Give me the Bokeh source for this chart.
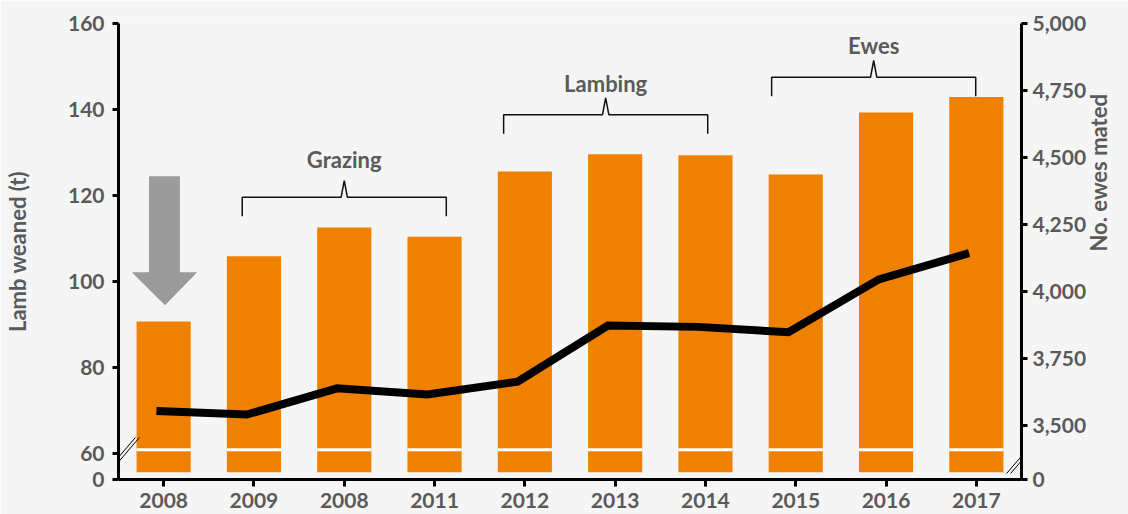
import math
from bokeh.plotting import figure
from bokeh.models import (Range1d, LinearAxis, FixedTicker, Label, Arrow,
                          ColumnDataSource, NumeralTickFormatter)
from bokeh.transform import dodge
from bokeh.embed import file_html
from bokeh.resources import INLINE

# ---- data ----
years = ["2008", "2009", "2008", "2011", "2012", "2013", "2014", "2015", "2016", "2017"]
lamb_weaned_t = [90.7, 105.9, 112.6, 110.4, 125.6, 129.6, 129.4, 124.9, 139.3, 142.9]
ewes_mated = [3555, 3542, 3640, 3617, 3665, 3874, 3869, 3849, 4046, 4144]
left_ticks = [60, 80, 100, 120, 140, 160]
right_ticks = [3500, 3750, 4000, 4250, 4500, 4750, 5000]

# annotation groups: (label, centre index, bracket height, label baseline)
brackets = [("Grazing", 2.0, 119.6, 128.4),
            ("Lambing", 4.895, 138.8, 146.0),
            ("Ewes", 7.863, 147.5, 155.0)]

FONT = "Lato"
TXT = "#5a5a5a"
ORANGE = "#f08000"
BG = "#f5f5f5"

idx = list(range(len(years)))
src = ColumnDataSource(dict(x=idx, top=lamb_weaned_t, ewes=ewes_mated))

LEFT_ZERO = 54      # broken-axis position of "0"
RIGHT_ZERO = 3300

p = figure(width=1128, height=514, output_backend="svg", toolbar_location=None,
           x_range=Range1d(-0.5, 9.5), y_range=Range1d(LEFT_ZERO, 160),
           min_border_left=116, min_border_right=105, min_border_top=23,
           min_border_bottom=35, background_fill_color=BG, border_fill_color=BG,
           outline_line_color=None)
p.extra_y_ranges = {"ewes": Range1d(RIGHT_ZERO, 5000)}
p.xgrid.visible = False
p.ygrid.visible = False

# bars (broken at the bottom)
p.vbar(x="x", top="top", bottom=55.7, width=0.6, fill_color=ORANGE,
       line_color=None, source=src)
p.vbar(x="x", top=61.28, bottom=60.58, width=0.6, fill_color="white",
       line_color=None, source=src)

# line
p.line(x=dodge("x", -0.08, range=p.x_range), y="ewes", y_range_name="ewes",
       source=src, line_width=8, line_color="black", line_join="miter")

# down arrow
p.patch([-0.162, 0.180, 0.180, 0.371, 0.015, -0.353, -0.162],
        [124.5, 124.5, 102.2, 102.2, 94.5, 102.2, 102.2],
        fill_color="#9b9b9b", line_color=None)

# brackets
half = 1.13
drop = 4.4
peak = 3.9
pw = 0.035
for name, cx, yh, yl in brackets:
    xs = [cx - half, cx - half, cx - pw, cx, cx + pw, cx + half, cx + half]
    ys = [yh - drop, yh, yh, yh + peak, yh, yh, yh - drop]
    p.line(xs, ys, line_color="#111111", line_width=1.5)
    p.add_layout(Label(x=cx, y=yl, text=name, text_align="center",
                       text_baseline="alphabetic", text_font=FONT,
                       text_font_style="bold", text_font_size="22px",
                       text_color=TXT))

# axes styling
def style_axis(ax):
    ax.axis_line_color = "black"
    ax.axis_line_width = 3
    ax.major_tick_line_color = "black"
    ax.major_tick_line_width = 3
    ax.major_tick_out = 6
    ax.major_tick_in = 0
    ax.minor_tick_line_color = None
    ax.major_label_text_font = FONT
    ax.major_label_text_font_style = "bold"
    ax.major_label_text_font_size = "21px"
    ax.major_label_text_color = TXT
    ax.axis_label_text_font = FONT
    ax.axis_label_text_font_style = "bold"
    ax.axis_label_text_font_size = "22px"
    ax.axis_label_text_color = TXT

xa = p.xaxis[0]
style_axis(xa)
xa.ticker = FixedTicker(ticks=idx)
xa.major_label_overrides = {i: y for i, y in enumerate(years)}
xa.major_tick_out = 7
xa.major_label_standoff = 6

ya = p.yaxis[0]
style_axis(ya)
ya.ticker = FixedTicker(ticks=[LEFT_ZERO] + left_ticks)
ya.major_label_overrides = {LEFT_ZERO: "0"}
ya.major_label_standoff = 8
ya.axis_label = "Lamb weaned (t)"
ya.axis_label_standoff = 34

ra = LinearAxis(y_range_name="ewes")
style_axis(ra)
ra.ticker = FixedTicker(ticks=[RIGHT_ZERO] + right_ticks)
ra.formatter = NumeralTickFormatter(format="0,0")
ra.major_label_overrides = {RIGHT_ZERO: "0"}
ra.major_label_standoff = 5
ra.axis_label = "No. ewes mated"
ra.axis_label_standoff = 9
try:
    ra.axis_label_orientation = math.pi / 2
except Exception:
    pass
p.add_layout(ra, "right")

# axis break marks
for x0, x1 in [(-0.654, -0.3126), (-0.610, -0.268), (9.335, 9.676), (9.379, 9.720)]:
    p.add_layout(Arrow(end=None, x_start=x0, y_start=55.39, x_end=x1, y_end=63.76,
                       line_color="black", line_width=1))

open("out.html", "w").write(file_html(p, INLINE))
